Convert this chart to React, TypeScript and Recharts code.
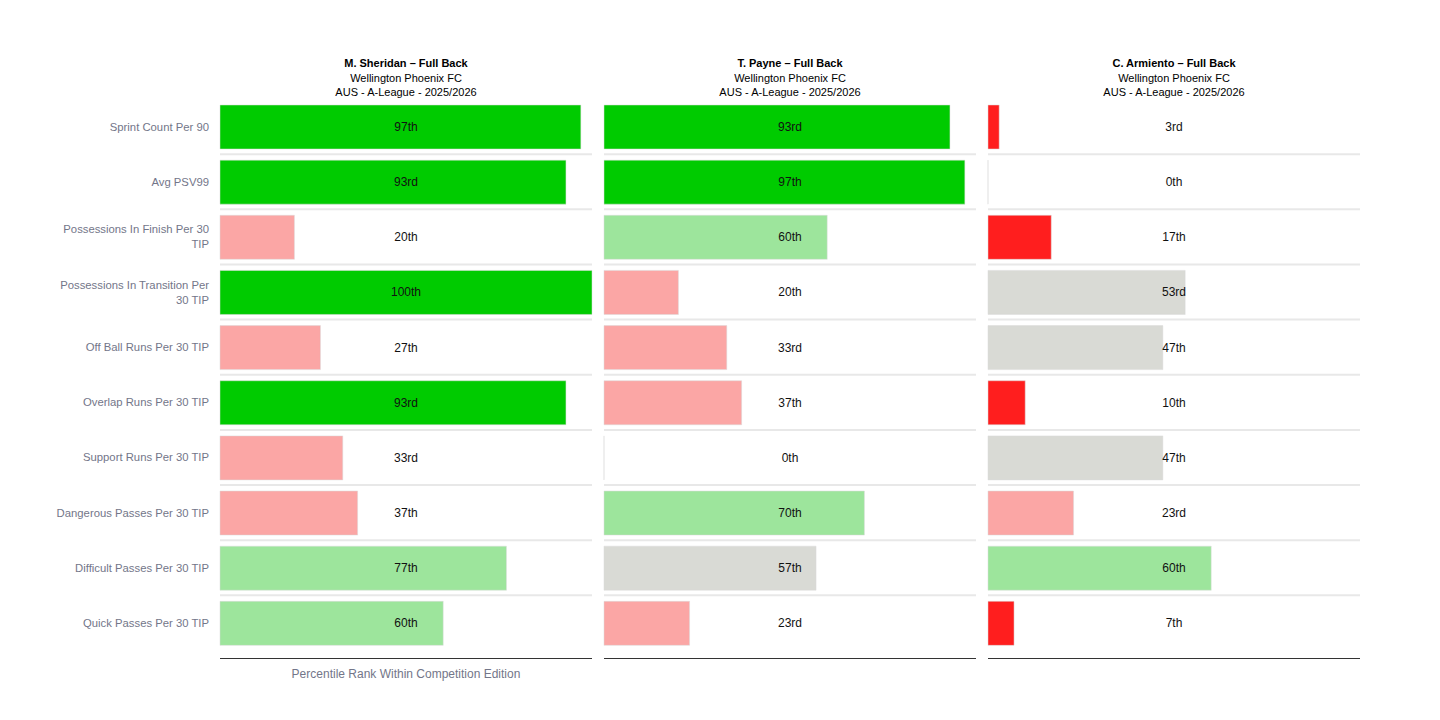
import { BarChart, Bar, XAxis, YAxis, CartesianGrid } from "recharts";

const metrics = [
  "Sprint Count Per 90",
  "Avg PSV99",
  "Possessions In Finish Per 30 TIP",
  "Possessions In Transition Per 30 TIP",
  "Off Ball Runs Per 30 TIP",
  "Overlap Runs Per 30 TIP",
  "Support Runs Per 30 TIP",
  "Dangerous Passes Per 30 TIP",
  "Difficult Passes Per 30 TIP",
  "Quick Passes Per 30 TIP",
];

const players = ["M. Sheridan – Full Back", "T. Payne – Full Back", "C. Armiento – Full Back"];
const clubs = ["Wellington Phoenix FC", "Wellington Phoenix FC", "Wellington Phoenix FC"];
const competitions = ["AUS - A-League - 2025/2026", "AUS - A-League - 2025/2026", "AUS - A-League - 2025/2026"];

const sheridan = [97, 93, 20, 100, 27, 93, 33, 37, 77, 60];
const payne = [93, 97, 60, 20, 33, 37, 0, 70, 57, 23];
const armiento = [3, 0, 17, 53, 47, 10, 47, 23, 60, 7];

const percentiles = [sheridan, payne, armiento];

const FONT = "'Liberation Sans', Arial, sans-serif";
const PANEL_W = 372;
const PANEL_LEFT = [220, 604, 988];
const AXIS_GAP = 8;
const LABEL_COLOR = "#737689";

function ordinal(n: number) {
  const t = n % 100;
  if (t >= 11 && t <= 13) return n + "th";
  if (n % 10 === 1) return n + "st";
  if (n % 10 === 2) return n + "nd";
  if (n % 10 === 3) return n + "rd";
  return n + "th";
}

function colorFor(v: number) {
  if (v >= 90) return "#00cb00";
  if (v >= 60) return "#9de59c";
  if (v >= 40) return "#d9dad5";
  if (v >= 20) return "#fba6a5";
  return "#ff1e1e";
}

function wrap(text: string, max: number) {
  const lines: string[] = [];
  let cur = "";
  for (const w of text.split(" ")) {
    const next = cur ? cur + " " + w : w;
    if (next.length > max && cur) {
      lines.push(cur);
      cur = w;
    } else cur = next;
  }
  if (cur) lines.push(cur);
  return lines;
}

function MetricTick({ x, y, payload }: any) {
  const lines = wrap(String(payload.value), 29);
  return (
    <text x={x} y={y} textAnchor="end" dominantBaseline="central" fill={LABEL_COLOR} fontSize={11.3} fontFamily={FONT}>
      {lines.map((l, i) => (
        <tspan key={i} x={x} dy={i === 0 ? -((lines.length - 1) * 15) / 2 : 15}>
          {l}
        </tspan>
      ))}
    </text>
  );
}

function PercentileBar(props: any) {
  const { x, y, width, height, value, background } = props;
  const v = Array.isArray(value) ? value[1] - value[0] : value;
  const cx = background ? background.x + background.width / 2 : x + width / 2;
  const w = Math.max(width || 0, 0);
  return (
    <g>
      <path
        d={`M${x},${y}h${w}v${height}h${-w}Z`}
        fill={colorFor(v)}
        stroke="rgba(220,220,220,0.5)"
        strokeWidth={1}
      />
      <text x={cx} y={y + height / 2} textAnchor="middle" dominantBaseline="central" fontSize={12} fontFamily={FONT} fill="#111">
        {ordinal(v)}
      </text>
    </g>
  );
}

function Panel({ idx }: { idx: number }) {
  const data = metrics.map((m, i) => ({ metric: m, value: percentiles[idx][i] }));
  const first = idx === 0;
  const left = PANEL_LEFT[idx];
  return (
    <div style={{ position: "absolute", left: 0, top: 0 }}>
      <BarChart
        width={1440}
        height={720}
        data={data}
        layout="vertical"
        margin={{ top: 99, bottom: 31.5, left: first ? 10 : left, right: 1440 - left - PANEL_W }}
      >
        <CartesianGrid
          vertical={false}
          stroke="#e8e8e8"
          strokeWidth={2}
          horizontalCoordinatesGenerator={({ offset }: any) => {
            const band = (offset.height - AXIS_GAP) / metrics.length;
            return metrics.slice(1).map((_, i) => offset.top + (i + 1) * band);
          }}
        />
        <XAxis
          type="number"
          domain={[0, 100]}
          tick={false}
          tickLine={false}
          axisLine={{ stroke: "#333", strokeWidth: 1 }}
          height={30}
          label={
            first
              ? { value: "Percentile Rank Within Competition Edition", position: "center", fill: LABEL_COLOR, fontSize: 12, fontFamily: FONT }
              : undefined
          }
        />
        <YAxis
          type="category"
          dataKey="metric"
          hide={!first}
          width={first ? 210 : 0}
          axisLine={false}
          tickLine={false}
          tickSize={6}
          tickMargin={5}
          padding={{ top: 0, bottom: AXIS_GAP }}
          tick={<MetricTick />}
          interval={0}
        />
        <Bar dataKey="value" barSize={44} isAnimationActive={false} shape={<PercentileBar />} />
      </BarChart>
    </div>
  );
}

export default function App() {
  return (
    <div style={{ position: "absolute", left: 0, top: 0, width: 1440, height: 720, background: "#fff", fontFamily: FONT }}>
      {[0, 1, 2].map((i) => (
        <Panel key={i} idx={i} />
      ))}
      {players.map((p, i) => (
        <div
          key={p}
          style={{
            position: "absolute",
            left: PANEL_LEFT[i],
            top: 56,
            width: PANEL_W,
            textAlign: "center",
            fontSize: 11,
            lineHeight: "14.5px",
            color: "#000",
          }}
        >
          <div style={{ fontWeight: "bold" }}>{p}</div>
          <div>{clubs[i]}</div>
          <div>{competitions[i]}</div>
        </div>
      ))}
    </div>
  );
}
